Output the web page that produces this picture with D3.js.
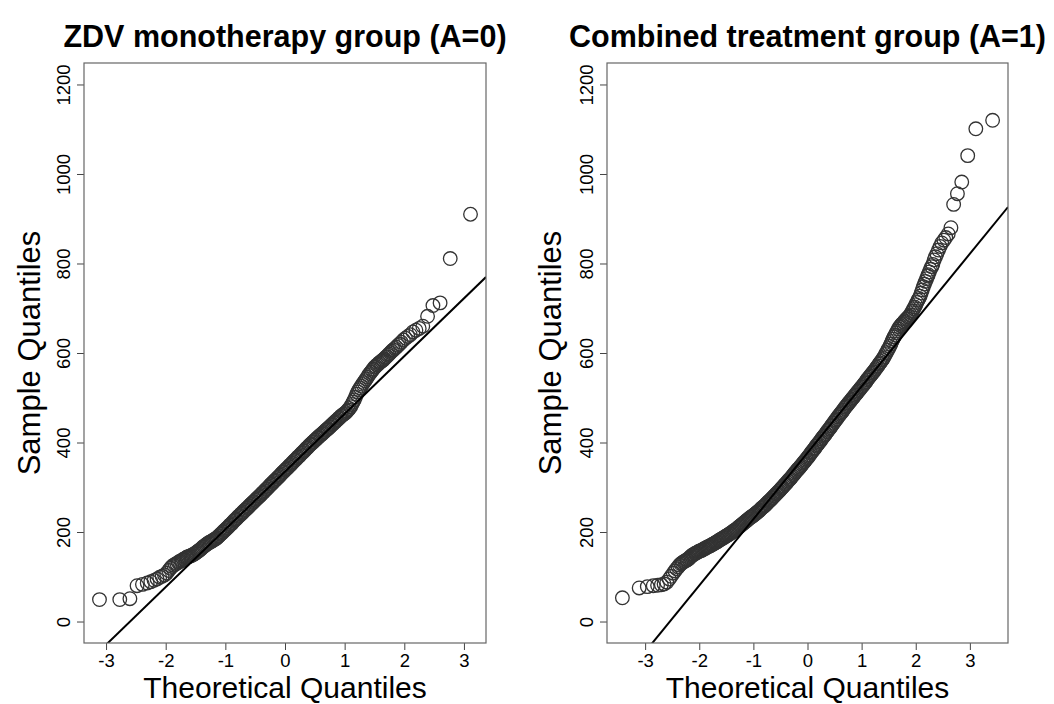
<!DOCTYPE html>
<html>
<head>
<meta charset="utf-8">
<script src="https://cdn.jsdelivr.net/npm/d3@7"></script>
<style>
  body { margin: 0; background: #fff; }
  svg { display: block; }
  text { font-family: "Liberation Sans", Arial, Helvetica, sans-serif; fill: #000; }
</style>
</head>
<body>
<svg id="chart" width="1054" height="704"></svg>
<script>
// ---- labels and ticks ----
const panelTitles = ["ZDV monotherapy group (A=0)", "Combined treatment group (A=1)"];
const xAxisLabel = "Theoretical Quantiles";
const yAxisLabel = "Sample Quantiles";
const xTickValues = [-3, -2, -1, 0, 1, 2, 3];
const yTickValues = [0, 200, 400, 600, 800, 1000, 1200];
const yLimits = [0, 1200];

// ---- ZDV monotherapy (A=0): [theoretical quantile, sample quantile] ----
const zdvLowerTail = [
  [-3.11,49],[-2.77,49],[-2.6,51],[-2.48,80],[-2.39,83],[-2.31,86],[-2.25,89],[-2.195,92],
  [-2.145,95],[-2.1,99],[-2.06,101],[-2.02,104],[-1.985,108],[-1.95,114],[-1.92,119],
  [-1.895,123],[-1.866,126],[-1.84,128],[-1.815,130],[-1.79,132],[-1.77,134],[-1.745,135],
  [-1.725,137],[-1.705,139],[-1.685,140],[-1.665,142],[-1.647,143]
];
const zdvBody = [
  [-1.64,144],[-1.62,145],[-1.6,146],[-1.58,147],[-1.56,148],[-1.54,150],[-1.52,151],[-1.5,153],
  [-1.48,155],[-1.46,157],[-1.44,159],[-1.42,161],[-1.4,163],[-1.38,166],[-1.36,168],[-1.34,170],
  [-1.32,172],[-1.3,174],[-1.28,176],[-1.26,177],[-1.24,179],[-1.22,180],[-1.2,182],[-1.18,184],
  [-1.16,185],[-1.14,187],[-1.12,190],[-1.1,192],[-1.08,195],[-1.06,197],[-1.04,200],[-1.02,203],
  [-1,205],[-0.98,208],[-0.96,210],[-0.94,213],[-0.92,216],[-0.9,218],[-0.88,221],[-0.86,224],
  [-0.84,227],[-0.82,229],[-0.8,232],[-0.78,235],[-0.76,237],[-0.74,240],[-0.72,242],[-0.7,245],
  [-0.68,248],[-0.66,250],[-0.64,253],[-0.62,255],[-0.6,258],[-0.58,261],[-0.56,263],[-0.54,266],
  [-0.52,268],[-0.5,271],[-0.48,274],[-0.46,276],[-0.44,279],[-0.42,281],[-0.4,284],[-0.38,287],
  [-0.36,289],[-0.34,292],[-0.32,295],[-0.3,297],[-0.28,300],[-0.26,303],[-0.24,306],[-0.22,308],
  [-0.2,311],[-0.18,314],[-0.16,316],[-0.14,319],[-0.12,322],[-0.1,324],[-0.08,327],[-0.06,330],
  [-0.04,333],[-0.02,335],[0,338],[0.02,341],[0.04,343],[0.06,346],[0.08,349],[0.1,351],
  [0.12,354],[0.14,357],[0.16,360],[0.18,362],[0.2,365],[0.22,368],[0.24,370],[0.26,373],
  [0.28,376],[0.3,378],[0.32,381],[0.34,384],[0.36,387],[0.38,389],[0.4,392],[0.42,395],
  [0.44,397],[0.46,400],[0.48,402],[0.5,405],[0.52,407],[0.54,410],[0.56,412],[0.58,415],
  [0.6,417],[0.62,419],[0.64,422],[0.66,424],[0.68,427],[0.7,429],[0.72,431],[0.74,434],
  [0.76,436],[0.78,439],[0.8,441],[0.82,444],[0.84,446],[0.86,449],[0.88,451],[0.9,454],
  [0.92,456],[0.94,459],[0.96,461],[0.98,463],[1,465],[1.02,467],[1.04,470],[1.06,473],
  [1.08,476],[1.1,480],[1.12,485],[1.14,490],[1.16,495],[1.18,501],[1.2,508],[1.22,513],
  [1.24,518],[1.26,522],[1.28,526],[1.3,530],[1.32,534],[1.34,538],[1.36,542],[1.38,546],
  [1.4,550],[1.42,554],[1.44,557],[1.46,561],[1.48,564],[1.5,568],[1.52,570],[1.54,573],
  [1.56,575],[1.58,578],[1.6,580],[1.62,582],[1.64,584]
];
const zdvUpperTail = [
  [1.647,585],[1.665,587],[1.685,590],[1.705,592],[1.725,595],[1.745,598],[1.77,601],[1.79,604],
  [1.815,607],[1.84,610],[1.866,613],[1.895,617],[1.92,620],[1.95,624],[1.985,629],[2.02,633],
  [2.06,637],[2.1,641],[2.145,647],[2.195,651],[2.25,655],[2.31,660],[2.39,682],[2.48,706],
  [2.6,712],[2.77,811],[3.11,910]
];
const zdvQuartiles = [248, 422];     // sample values at the normal quartiles
const zdvXLimits = [-3.12, 3.12];

// ---- Combined treatment (A=1): [theoretical quantile, sample quantile] ----
const combinedLowerTail = [
  [-3.42,53],[-3.11,75],[-2.96,78],[-2.85,80],[-2.77,81],[-2.7,82],[-2.65,84],[-2.6,88],
  [-2.555,95],[-2.52,101],[-2.48,108],[-2.45,113],[-2.42,118],[-2.39,122],[-2.365,126],
  [-2.34,129],[-2.315,131],[-2.295,133],[-2.27,135],[-2.25,136],[-2.23,138]
];
const combinedBody = [
  [-2.22,138],[-2.2,140],[-2.18,142],[-2.16,145],[-2.14,147],[-2.12,149],[-2.1,150],[-2.08,152],
  [-2.06,153],[-2.04,154],[-2.02,156],[-2,157],[-1.98,158],[-1.96,159],[-1.94,160],[-1.92,162],
  [-1.9,163],[-1.88,164],[-1.86,166],[-1.84,167],[-1.82,168],[-1.8,169],[-1.78,171],[-1.76,172],
  [-1.74,173],[-1.72,175],[-1.7,176],[-1.68,178],[-1.66,179],[-1.64,181],[-1.62,182],[-1.6,184],
  [-1.58,185],[-1.56,187],[-1.54,188],[-1.52,190],[-1.5,191],[-1.48,193],[-1.46,194],[-1.44,196],
  [-1.42,197],[-1.4,199],[-1.38,201],[-1.36,203],[-1.34,204],[-1.32,206],[-1.3,208],[-1.28,210],
  [-1.26,212],[-1.24,214],[-1.22,216],[-1.2,218],[-1.18,220],[-1.16,222],[-1.14,224],[-1.12,226],
  [-1.1,228],[-1.08,230],[-1.06,232],[-1.04,234],[-1.02,235],[-1,237],[-0.98,239],[-0.96,241],
  [-0.94,243],[-0.92,245],[-0.9,247],[-0.88,249],[-0.86,252],[-0.84,254],[-0.82,256],[-0.8,258],
  [-0.78,260],[-0.76,263],[-0.74,265],[-0.72,268],[-0.7,270],[-0.68,272],[-0.66,275],[-0.64,277],
  [-0.62,280],[-0.6,282],[-0.58,285],[-0.56,287],[-0.54,290],[-0.52,292],[-0.5,295],[-0.48,298],
  [-0.46,300],[-0.44,303],[-0.42,306],[-0.4,308],[-0.38,311],[-0.36,314],[-0.34,317],[-0.32,319],
  [-0.3,322],[-0.28,325],[-0.26,328],[-0.24,331],[-0.22,334],[-0.2,337],[-0.18,340],[-0.16,342],
  [-0.14,345],[-0.12,348],[-0.1,351],[-0.08,354],[-0.06,357],[-0.04,360],[-0.02,363],[0,366],
  [0.02,369],[0.04,372],[0.06,376],[0.08,379],[0.1,382],[0.12,385],[0.14,388],[0.16,392],
  [0.18,395],[0.2,398],[0.22,401],[0.24,404],[0.26,408],[0.28,411],[0.3,414],[0.32,417],
  [0.34,420],[0.36,424],[0.38,427],[0.4,430],[0.42,433],[0.44,437],[0.46,440],[0.48,443],
  [0.5,447],[0.52,450],[0.54,453],[0.56,457],[0.58,460],[0.6,463],[0.62,466],[0.64,469],
  [0.66,472],[0.68,476],[0.7,479],[0.72,482],[0.74,485],[0.76,488],[0.78,491],[0.8,494],
  [0.82,497],[0.84,500],[0.86,503],[0.88,506],[0.9,509],[0.92,512],[0.94,515],[0.96,518],
  [0.98,521],[1,524],[1.02,527],[1.04,530],[1.06,533],[1.08,536],[1.1,540],[1.12,543],
  [1.14,546],[1.16,549],[1.18,552],[1.2,555],[1.22,558],[1.24,561],[1.26,565],[1.28,568],
  [1.3,571],[1.32,575],[1.34,578],[1.36,581],[1.38,585],[1.4,588],[1.42,592],[1.44,597],
  [1.46,601],[1.48,606],[1.5,610],[1.52,615],[1.54,620],[1.56,626],[1.58,631],[1.6,636],
  [1.62,640],[1.64,645],[1.66,649],[1.68,654],[1.7,658],[1.72,661],[1.74,664],[1.76,666],
  [1.78,669],[1.8,672],[1.82,675],[1.84,677],[1.86,680],[1.88,682],[1.9,685],[1.92,690],
  [1.94,694],[1.96,699],[1.98,703],[2,708],[2.02,713],[2.04,718],[2.06,722],[2.08,727],
  [2.1,734],[2.12,741],[2.14,748],[2.16,754],[2.18,760],[2.2,766],[2.22,772]
];
const combinedUpperTail = [
  [2.23,775],[2.25,781],[2.27,787],[2.295,793],[2.315,798],[2.34,808],[2.365,815],[2.39,822],
  [2.42,830],[2.45,838],[2.48,846],[2.52,852],[2.555,858],[2.6,866],[2.65,880],[2.7,932],
  [2.77,956],[2.85,982],[2.96,1041],[3.11,1101],[3.42,1120]
];
const combinedQuartiles = [277, 477];
const combinedXLimits = [-3.43, 3.43];

// ---- layout ----
const svg = d3.select("#chart");
const plotTop = 63, plotBottom = 643;
const normalQuartile = 0.6744898;
const fontStack = "'Liberation Sans', Arial, Helvetica, sans-serif";

const panels = [
  { title: panelTitles[0], points: zdvLowerTail.concat(zdvBody, zdvUpperTail),
    quartiles: zdvQuartiles, xLimits: zdvXLimits, left: 84, right: 486, yLabelX: 40 },
  { title: panelTitles[1], points: combinedLowerTail.concat(combinedBody, combinedUpperTail),
    quartiles: combinedQuartiles, xLimits: combinedXLimits, left: 607, right: 1008, yLabelX: 561 }
];

// base-graphics style 4% padding of the data range
function padRange([a, b]) {
  const d = (b - a) * 0.04;
  return [a - d, b + d];
}

panels.forEach((p, i) => {
  const x = d3.scaleLinear().domain(padRange(p.xLimits)).range([p.left, p.right]);
  const y = d3.scaleLinear().domain(padRange(yLimits)).range([plotBottom, plotTop]);
  const cx = (p.left + p.right) / 2;
  const g = svg.append("g");

  const clipId = "plot-clip-" + i;
  svg.append("clipPath").attr("id", clipId)
    .append("rect")
    .attr("x", p.left).attr("y", plotTop)
    .attr("width", p.right - p.left).attr("height", plotBottom - plotTop);

  // open circles
  g.append("g").selectAll("circle")
    .data(p.points)
    .join("circle")
    .attr("cx", d => x(d[0]))
    .attr("cy", d => y(d[1]))
    .attr("r", 6.8)
    .attr("fill", "none")
    .attr("stroke", "#333")
    .attr("stroke-width", 1.3);

  // reference line through the quartiles
  const slope = (p.quartiles[1] - p.quartiles[0]) / (2 * normalQuartile);
  const intercept = (p.quartiles[0] + p.quartiles[1]) / 2;
  const [xa, xb] = x.domain();
  g.append("line")
    .attr("clip-path", `url(#${clipId})`)
    .attr("x1", x(xa)).attr("y1", y(intercept + slope * xa))
    .attr("x2", x(xb)).attr("y2", y(intercept + slope * xb))
    .attr("stroke", "#000")
    .attr("stroke-width", 2);

  // axes
  const xAxis = g.append("g")
    .attr("transform", `translate(0,${plotBottom})`)
    .call(d3.axisBottom(x).tickValues(xTickValues).tickSize(7).tickFormat(d => String(d)));
  xAxis.select(".domain").remove();
  xAxis.selectAll(".tick line").attr("stroke", "#444");
  xAxis.selectAll(".tick text")
    .attr("y", 23.5).attr("dy", null)
    .style("font-size", "18.5px")
    .style("font-family", fontStack)
    .attr("fill", "#000");

  const yAxis = g.append("g")
    .attr("transform", `translate(${p.left},0)`)
    .call(d3.axisLeft(y).tickValues(yTickValues).tickSize(7).tickFormat(d => String(d)));
  yAxis.select(".domain").remove();
  yAxis.selectAll(".tick line").attr("stroke", "#444");
  yAxis.selectAll(".tick text")
    .attr("x", null).attr("dy", null)
    .attr("transform", "translate(-14,0) rotate(-90)")
    .attr("text-anchor", "middle")
    .style("font-size", "18.5px")
    .style("font-family", fontStack)
    .attr("fill", "#000");

  // frame
  g.append("rect")
    .attr("x", p.left).attr("y", plotTop)
    .attr("width", p.right - p.left).attr("height", plotBottom - plotTop)
    .attr("fill", "none").attr("stroke", "#666").attr("stroke-width", 1.2);

  // titles and axis labels
  g.append("text")
    .attr("x", cx).attr("y", 47)
    .attr("text-anchor", "middle")
    .style("font-size", "30.5px").style("font-weight", "bold")
    .text(p.title);

  g.append("text")
    .attr("x", cx).attr("y", 697.5)
    .attr("text-anchor", "middle")
    .style("font-size", "30px")
    .text(xAxisLabel);

  g.append("text")
    .attr("transform", `translate(${p.yLabelX},${(plotTop + plotBottom) / 2}) rotate(-90)`)
    .attr("text-anchor", "middle")
    .style("font-size", "31px")
    .text(yAxisLabel);
});
</script>
</body>
</html>
